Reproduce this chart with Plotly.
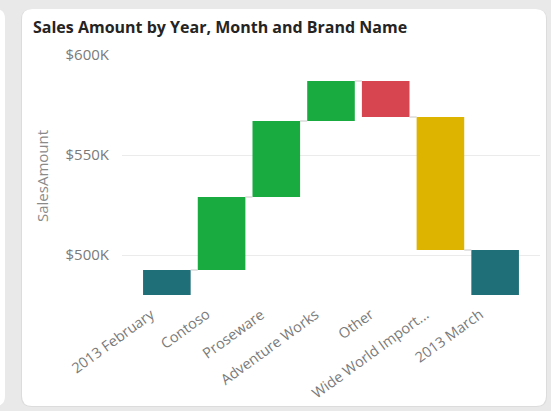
import plotly.graph_objects as go

# --- données ---
categories = ["2013 February", "Contoso", "Proseware", "Adventure Works",
              "Other", "Wide World Importers", "2013 March"]
tick_labels = ["2013 February", "Contoso", "Proseware", "Adventure Works",
               "Other", "Wide World Import...", "2013 March"]
measures = ["absolute", "relative", "relative", "relative",
            "relative", "relative", "total"]
amounts = [492500, 36500, 38000, 20000, -18000, -66500, 0]
bar_colors = ["#1F6F78", "#1AAB40", "#1AAB40", "#1AAB40",
              "#D64550", "#DDB500", "#1F6F78"]
y_ticks = [500000, 550000, 600000]
y_tick_labels = ["$500K", "$550K", "$600K"]
y_range = [480000, 600000]

W, H = 551, 411
L, R, T, B = 122, 11, 55, 116
BAR_W = 0.87

# bases / hauteurs de la cascade
bases, heights, levels = [], [], []
running = 0
for m, a in zip(measures, amounts):
    if m == "absolute":
        bases.append(0); heights.append(a); running = a
    elif m == "relative":
        bases.append(running); heights.append(a); running += a
    else:
        bases.append(0); heights.append(running)
    levels.append(running)

idx = list(range(len(categories)))

# connecteurs entre barres
cx, cy = [], []
for i in range(len(idx) - 1):
    cx += [i + BAR_W / 2, i + 1 - BAR_W / 2, None]
    cy += [levels[i], levels[i], None]

fig = go.Figure()
fig.add_trace(go.Scatter(x=cx, y=cy, mode="lines",
                         line=dict(color="#C8C8C8", width=1),
                         hoverinfo="skip", showlegend=False))
fig.add_trace(go.Bar(x=idx, y=heights, base=bases, width=BAR_W,
                     marker=dict(color=bar_colors, line=dict(width=0)),
                     customdata=categories,
                     hovertemplate="%{customdata}<extra></extra>",
                     showlegend=False))

# carte blanche arrondie (coordonnées pixels -> paper)
pw, ph = W - L - R, H - T - B
def px(x): return (x - L) / pw
def py(y): return (H - B - y) / ph

def rounded(x0, y0, x1, y1, r):
    rx, ry = r / pw, r / ph
    a, b, c, d = px(x0), py(y0), px(x1), py(y1)
    return (f"M {a+rx},{b} L {c-rx},{b} Q {c},{b} {c},{b-ry} "
            f"L {c},{d+ry} Q {c},{d} {c-rx},{d} L {a+rx},{d} "
            f"Q {a},{d} {a},{d+ry} L {a},{b-ry} Q {a},{b} {a+rx},{b} Z")

shapes = [
    dict(type="path", xref="paper", yref="paper", layer="below",
         path=rounded(-20, 9, 5, 406, 10), fillcolor="white", line=dict(width=0)),
    dict(type="path", xref="paper", yref="paper", layer="below",
         path=rounded(21, 9, 547, 407, 11), fillcolor="#DCDCDC", line=dict(width=0)),
    dict(type="path", xref="paper", yref="paper", layer="below",
         path=rounded(22, 9, 546, 406, 10), fillcolor="white", line=dict(width=0)),
]

# étiquettes de catégories inclinées (comme Power BI)
annots = [dict(text=t, x=i, xref="x", y=py(303), yref="paper",
               xanchor="right", yanchor="top", xshift=-7, textangle=-36,
               showarrow=False, borderpad=0,
               font=dict(size=14.5, color="#7A7A7A"))
          for i, t in zip(idx, tick_labels)]
annots.append(dict(text="SalesAmount", textangle=-90, xref="paper", yref="paper",
                   x=px(42), y=py(176), xanchor="center", yanchor="middle",
                   showarrow=False, font=dict(size=15, color="#8A8A8A")))

fig.update_layout(
    width=W, height=H,
    margin=dict(l=L, r=R, t=T, b=B),
    paper_bgcolor="#E9E9E9",
    plot_bgcolor="rgba(0,0,0,0)",
    font=dict(family="Open Sans", color="#777777", size=12),
    shapes=shapes,
    bargap=0.13,
    title=dict(text="<b>Sales Amount by Year, Month and Brand Name</b>",
               font=dict(family="Open Sans", size=16, color="#252423"),
               x=33 / W, xanchor="left", xref="container",
               y=1 - 27 / H, yanchor="middle", yref="container"),
    xaxis=dict(range=[-0.82, 6.82], tickvals=idx, showticklabels=False,
               showgrid=False, zeroline=False, showline=False, ticks=""),
    yaxis=dict(range=y_range, tickvals=y_ticks, ticktext=y_tick_labels,
               showgrid=True, gridcolor="#EBEBEB", gridwidth=1,
               zeroline=False, showline=False, ticks="",
               ticklabelstandoff=12,
               tickfont=dict(size=15, color="#7A7A7A")),
    annotations=annots,
)

# la page a une marge par défaut de 8 px : on la retire
fig.write_html("out.html", config={"displayModeBar": False},
               post_script="document.body.style.margin='0';")
